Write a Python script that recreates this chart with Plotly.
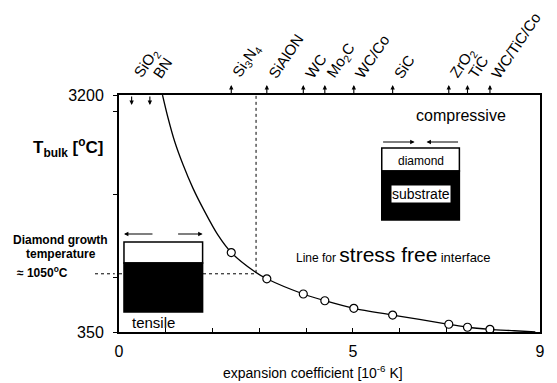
import plotly.graph_objects as go

# ---------------- data ----------------
# stress-free interface curve
curve_x = [0.93, 1.05, 1.19, 1.37, 1.58, 1.83, 2.11, 2.40, 2.89, 3.16, 3.94, 4.40, 5.02, 5.85, 7.05, 7.45, 7.93, 8.45, 8.9]
curve_y = [3200, 2920, 2640, 2360, 2080, 1800, 1520, 1305, 1080, 990, 807, 726, 635, 554, 443, 407, 382, 365, 350]

# substrate materials (circles + arrows on top axis)
mat_names = ["Si<sub>3</sub>N<sub>4</sub>", "SiAlON", "WC", "Mo<sub>2</sub>C", "WC/Co",
             "SiC", "ZrO<sub>2</sub>", "TiC", "WC/TiC/Co"]
mat_alpha = [2.40, 3.16, 3.94, 4.40, 5.02, 5.85, 7.05, 7.45, 7.93]
mat_T = [1305, 990, 807, 726, 635, 554, 443, 407, 382]

# low-expansion materials (arrows pointing into plot)
low_names = ["SiO<sub>2</sub>", "BN"]
low_alpha = [0.27, 0.66]
low_label_x = [0.17, 0.60]

growth_T = 1050
growth_alpha = 2.93

x_tickvals = [0, 1, 2, 3, 4, 5, 6, 7, 8, 9]
x_ticktext = ["0", "", "", "", "", "5", "", "", "", "9"]
y_tickvals = [350, 1000, 2000, 3000, 3200]
y_ticktext = ["350", "", "", "", "3200"]

FONT = "Liberation Sans, Arial, sans-serif"

fig = go.Figure()

fig.add_trace(go.Scatter(x=curve_x, y=curve_y, mode="lines",
                         line=dict(color="black", width=1.3, shape="spline", smoothing=0.8),
                         hoverinfo="skip", showlegend=False))
fig.add_trace(go.Scatter(x=mat_alpha, y=mat_T, mode="markers",
                         marker=dict(symbol="circle", size=8, color="white",
                                     line=dict(color="black", width=1.2)),
                         showlegend=False))

# dotted guide lines
fig.add_trace(go.Scatter(x=[0, growth_alpha, growth_alpha], y=[growth_T, growth_T, 3200],
                         mode="lines", line=dict(color="black", width=1, dash="dot"),
                         hoverinfo="skip", showlegend=False))

shapes = []
annotations = []

# leader of 1050 label outside axis
shapes.append(dict(type="line", xref="paper", yref="y", x0=-0.057, x1=-0.010,
                   y0=growth_T, y1=growth_T, line=dict(color="black", width=1, dash="dot")))

def px2py(py):
    return (332 - py) / 237.0

def px2px(px):
    return (px - 119) / 423.0

# tensile inset
shapes.append(dict(type="rect", xref="paper", yref="paper",
                   x0=px2px(124), x1=px2px(203), y0=px2py(263), y1=px2py(242),
                   line=dict(color="black", width=1.5), fillcolor="white"))
shapes.append(dict(type="rect", xref="paper", yref="paper",
                   x0=px2px(124), x1=px2px(203), y0=px2py(312), y1=px2py(263),
                   line=dict(color="black", width=1.5), fillcolor="black"))
# compressive inset
shapes.append(dict(type="rect", xref="paper", yref="paper",
                   x0=px2px(383), x1=px2px(461), y0=px2py(171), y1=px2py(148),
                   line=dict(color="black", width=1.5), fillcolor="white"))
shapes.append(dict(type="rect", xref="paper", yref="paper",
                   x0=px2px(383), x1=px2px(461), y0=px2py(220), y1=px2py(171),
                   line=dict(color="black", width=1.5), fillcolor="black"))

def arrow(x, y, ax, ay, xref="paper"):
    annotations.append(dict(x=x, y=y, xref=xref, yref="paper", text="", showarrow=True,
                            ax=ax, ay=ay, arrowhead=2, arrowsize=0.8, arrowwidth=1.1,
                            arrowcolor="black"))

# inset arrows
arrow(px2px(124), px2py(234), 30, 0)
arrow(px2px(203), px2py(234), -26, 0)
arrow(px2px(416), px2py(142), -33, 0)
arrow(px2px(428), px2py(142), 33, 0)

# material arrows on top axis
for a in mat_alpha:
    arrow(a, 1 + 10 / 237, 0, 10, xref="x")
for a in low_alpha:
    arrow(a, 1 - 10 / 237, 0, -10, xref="x")

for n, a in zip(mat_names, mat_alpha):
    annotations.append(dict(x=a, y=px2py(84), xref="x", yref="paper", text=n, showarrow=False,
                            textangle=-56, xanchor="left", yanchor="bottom", xshift=-5,
                            font=dict(size=15, color="black", family=FONT)))
for n, a in zip(low_names, low_label_x):
    annotations.append(dict(x=a, y=px2py(84), xref="x", yref="paper", text=n, showarrow=False,
                            textangle=-56, xanchor="left", yanchor="bottom",
                            font=dict(size=15, color="black", family=FONT)))

def txt(x, y, t, size, xanchor="center", bold=False, bg=None):
    d = dict(x=x, y=y, xref="paper", yref="paper", text=("<b>%s</b>" % t if bold else t),
             showarrow=False, xanchor=xanchor, yanchor="middle",
             font=dict(size=size, color="black", family=FONT))
    if bg:
        d["bgcolor"] = bg
        d["borderpad"] = 0
    annotations.append(d)

txt(px2px(68), px2py(147), "T<sub>bulk</sub> [<sup>o</sup>C]", 17, bold=True)
txt(px2px(60), px2py(240), "Diamond growth", 12, bold=True)
txt(px2px(61), px2py(254), "temperature", 12, bold=True)
txt(px2px(15), px2py(272), "\u2248 1050<sup>o</sup>C", 12, xanchor="left", bold=True)
txt(px2px(130), px2py(322), "tensile", 15, xanchor="left")
txt(px2px(463), px2py(115), "compressive", 16)
txt(px2px(422), px2py(161), "diamond", 12)
txt(px2px(422), px2py(194), "substrate", 14, bg="white")
txt(px2px(295), px2py(254),
    "Line for <span style='font-size:21px'>stress free</span> <span style='font-size:13px'>interface</span>",
    12, xanchor="left")
txt(px2px(314), px2py(372), "expansion coefficient [10<sup>-6</sup> K]", 14)

fig.update_layout(
    width=557, height=383,
    margin=dict(l=119, r=15, t=95, b=51),
    paper_bgcolor="white", plot_bgcolor="white",
    font=dict(family=FONT, color="black"),
    shapes=shapes, annotations=annotations,
    xaxis=dict(range=[0, 9], tickvals=x_tickvals, ticktext=x_ticktext,
               ticks="inside", ticklen=4, tickcolor="black", tickwidth=1,
               showline=True, linecolor="black", linewidth=2, mirror=True,
               showgrid=False, zeroline=False, tickfont=dict(size=16),
               ticklabelstandoff=4),
    yaxis=dict(range=[350, 3200], tickvals=y_tickvals, ticktext=y_ticktext,
               ticks="outside", ticklen=4, tickcolor="black", tickwidth=1,
               showline=True, linecolor="black", linewidth=2, mirror=True,
               showgrid=False, zeroline=False, tickfont=dict(size=16),
               ticklabelstandoff=6),
)

fig.write_html("out.html")
